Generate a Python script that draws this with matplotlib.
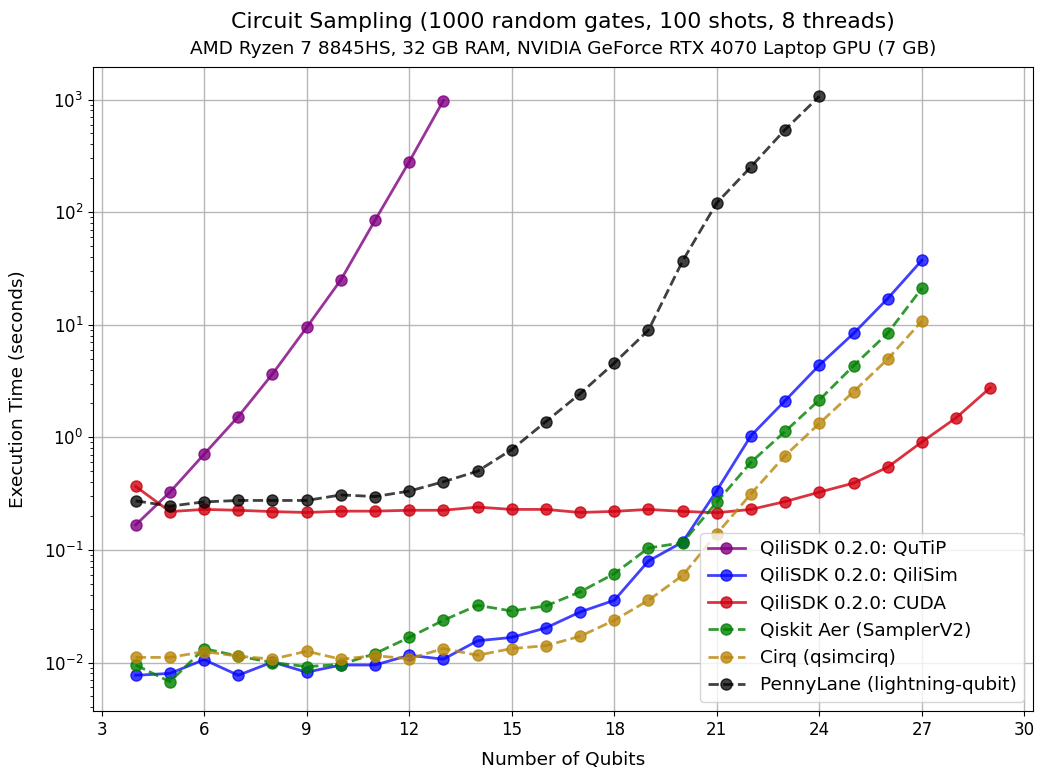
import matplotlib
matplotlib.use("Agg")
import matplotlib.pyplot as plt
import numpy as np

qutip_n = list(range(4, 14))
qutip_t = [0.167, 0.326, 0.708, 1.53, 3.65, 9.46, 25.0, 84.6, 280, 980]

qilisim_n = list(range(4, 28))
qilisim_t = [0.0077, 0.0080, 0.0106, 0.0077, 0.0101, 0.0082, 0.0095, 0.0095, 0.0116, 0.0107,
             0.0156, 0.0167, 0.0203, 0.0281, 0.0357, 0.0797, 0.1175, 0.337, 1.035, 2.12,
             4.38, 8.37, 17.1, 37.4]

cuda_n = list(range(4, 30))
cuda_t = [0.366, 0.219, 0.229, 0.225, 0.219, 0.215, 0.221, 0.221, 0.225, 0.225,
          0.240, 0.229, 0.229, 0.215, 0.220, 0.229, 0.220, 0.214, 0.229, 0.269,
          0.326, 0.392, 0.543, 0.91, 1.49, 2.76]

qiskit_n = list(range(4, 28))
qiskit_t = [0.0095, 0.00675, 0.0133, 0.0114, 0.0100, 0.0092, 0.0096, 0.0120, 0.0167, 0.0237,
            0.0322, 0.0287, 0.0318, 0.0424, 0.0615, 0.104, 0.116, 0.266, 0.601, 1.13,
            2.15, 4.32, 8.43, 21.1]

cirq_n = list(range(4, 28))
cirq_t = [0.0111, 0.0111, 0.0125, 0.0114, 0.0107, 0.0126, 0.0107, 0.0115, 0.0108, 0.0133,
          0.0116, 0.0133, 0.0141, 0.0171, 0.0237, 0.0357, 0.0594, 0.139, 0.315, 0.689,
          1.33, 2.54, 4.95, 10.8]

penny_n = list(range(4, 25))
penny_t = [0.273, 0.245, 0.267, 0.275, 0.275, 0.275, 0.308, 0.298, 0.333, 0.403,
           0.50, 0.778, 1.38, 2.44, 4.57, 8.96, 36.9, 121, 253, 542, 1070]

series = [
    ("QiliSDK 0.2.0: QuTiP", qutip_n, qutip_t, "purple", "-", 0.8),
    ("QiliSDK 0.2.0: QiliSim", qilisim_n, qilisim_t, "blue", "-", 0.75),
    ("QiliSDK 0.2.0: CUDA", cuda_n, cuda_t, "#d00010", "-", 0.8),
    ("Qiskit Aer (SamplerV2)", qiskit_n, qiskit_t, "green", "--", 0.8),
    ("Cirq (qsimcirq)", cirq_n, cirq_t, "darkgoldenrod", "--", 0.8),
    ("PennyLane (lightning-qubit)", penny_n, penny_t, "black", "--", 0.75),
]

fig = plt.figure(figsize=(10.37, 7.69), dpi=100)
ax = fig.add_axes([93/1037, 1-711/769, (1033-93)/1037, (711-67)/769])

for label, n, t, c, ls, a in series:
    ax.plot(n, t, marker="o", linestyle=ls, color=c, alpha=a,
            linewidth=2, markersize=8, label=label)

ax.set_yscale("log")
ax.set_xticks(range(3, 31, 3))
ax.grid(True, which="major", color="#b0b0b0", linewidth=1.0, alpha=0.9)
ax.tick_params(axis="both", which="major", labelsize=12)
ax.set_xlabel("Number of Qubits", fontsize=13.3)
ax.set_ylabel("Execution Time (seconds)", fontsize=13.3)
ax.yaxis.set_label_coords((27 - 93) / 940, 0.5)
ax.xaxis.set_label_coords(0.5, (711 - 751) / 644)
ax.legend(loc="lower right", fontsize=13.3)

ax.text(0.5, 1 + (67 - 22) / 644, "Circuit Sampling (1000 random gates, 100 shots, 8 threads)",
        transform=ax.transAxes, ha="center", va="center", fontsize=15.8)
ax.text(0.5, 1 + (67 - 49) / 644, "AMD Ryzen 7 8845HS, 32 GB RAM, NVIDIA GeForce RTX 4070 Laptop GPU (7 GB)",
        transform=ax.transAxes, ha="center", va="center", fontsize=13.3)

fig.savefig("out.png", dpi=100)
